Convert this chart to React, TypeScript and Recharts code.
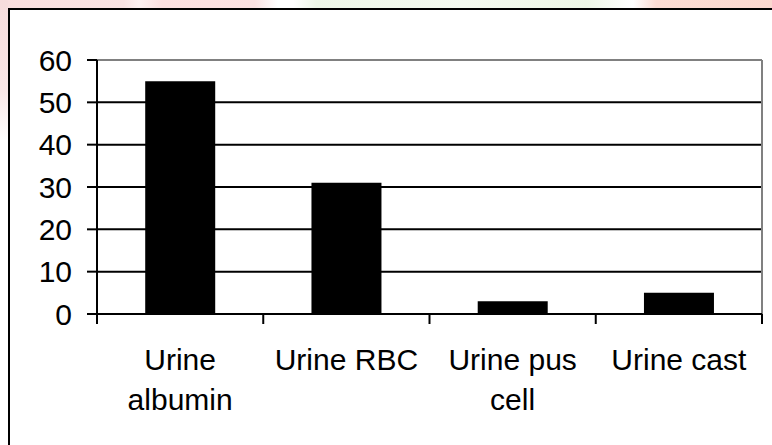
import React from 'react';
import { BarChart, Bar, XAxis, YAxis, CartesianGrid } from 'recharts';

const categories = ['Urine albumin', 'Urine RBC', 'Urine pus cell', 'Urine cast'];
const values = [55, 31, 3, 5];
const yTicks = [0, 10, 20, 30, 40, 50, 60];

const data = categories.map((name, i) => ({ name, value: values[i] }));

const FONT = '"Liberation Sans", Arial, Helvetica, sans-serif';
const FONT_SIZE = 30;
const LINE_HEIGHT = 40;
const X_TICK_SIZE = 10;
const X_TICK_MARGIN = 25;

let measureCtx: CanvasRenderingContext2D | null = null;
function measure(text: string): number {
  if (!measureCtx) {
    const c = document.createElement('canvas');
    measureCtx = c.getContext('2d');
  }
  if (!measureCtx) return text.length * FONT_SIZE * 0.5;
  measureCtx.font = `${FONT_SIZE}px ${FONT}`;
  return measureCtx.measureText(text).width;
}

function wrap(text: string, maxWidth: number): string[] {
  const words = String(text).split(' ');
  const lines: string[] = [];
  let cur = '';
  for (const w of words) {
    const next = cur ? cur + ' ' + w : w;
    if (cur && measure(next) > maxWidth) {
      lines.push(cur);
      cur = w;
    } else {
      cur = next;
    }
  }
  if (cur) lines.push(cur);
  return lines;
}

function XTick(props: any) {
  const { x, y, payload, index, visibleTicksCount, width } = props;
  let half = payload && typeof payload.offset === 'number' && payload.offset > 0 ? payload.offset : 0;
  if (!half && width && visibleTicksCount) half = width / visibleTicksCount / 2;
  const axisY = y - X_TICK_SIZE - X_TICK_MARGIN;
  const lines = wrap(payload.value, half * 2 - 4);
  return (
    <g>
      <line x1={x - half} y1={axisY} x2={x - half} y2={axisY + X_TICK_SIZE} stroke="#000" strokeWidth={2} />
      {index === visibleTicksCount - 1 && (
        <line x1={x + half} y1={axisY} x2={x + half} y2={axisY + X_TICK_SIZE} stroke="#000" strokeWidth={2} />
      )}
      <text x={x} y={y} textAnchor="middle" fill="#000" fontSize={FONT_SIZE} fontFamily={FONT}>
        {lines.map((l, i) => (
          <tspan key={i} x={x} dy={i === 0 ? '0.71em' : LINE_HEIGHT}>
            {l}
          </tspan>
        ))}
      </text>
    </g>
  );
}

export default function App() {
  return (
    <div
      style={{
        position: 'absolute',
        left: 0,
        top: 0,
        width: 772,
        height: 445,
        overflow: 'hidden',
        background:
          'linear-gradient(to bottom, #f7dcdc 0px, #f9e6e6 90px, #ffffff 140px) 0 0 / 8px 100% no-repeat, linear-gradient(to right, #f9dede 0%, #f9e4e4 16%, #fdf2f2 18%, #fbe0e0 21%, #fbe2e2 33%, #ffffff 36%, #ffffff 38%, #eef7e8 41%, #f4faf0 60%, #eef7e6 76%, #ffffff 82%, #fcdcd4 85%, #fbd8d0 100%)',
      }}
    >
      <div
        style={{
          position: 'absolute',
          left: 8,
          top: 8,
          width: 800,
          height: 480,
          borderLeft: '2px solid #000',
          borderTop: '2px solid #000',
          background: '#fff',
        }}
      />
      <div style={{ position: 'absolute', left: 0, top: 0 }}>
        <BarChart
          width={772}
          height={445}
          data={data}
          margin={{ top: 60, right: 10, bottom: 0, left: 0 }}
          barCategoryGap="29%"
        >
          <CartesianGrid vertical={false} stroke="#000" strokeWidth={2} />
          <CartesianGrid
            stroke="#808080"
            strokeWidth={2}
            horizontalCoordinatesGenerator={({ offset }: any) => [offset.top]}
            verticalCoordinatesGenerator={({ offset }: any) => [offset.left + offset.width]}
          />
          <XAxis
            dataKey="name"
            height={131}
            interval={0}
            tickSize={X_TICK_SIZE}
            tickMargin={X_TICK_MARGIN}
            tickLine={false}
            axisLine={{ stroke: '#000', strokeWidth: 2 }}
            tick={<XTick />}
          />
          <YAxis
            width={97}
            domain={[0, 60]}
            ticks={yTicks}
            interval={0}
            tickSize={10}
            tickMargin={15}
            axisLine={{ stroke: '#000', strokeWidth: 2 }}
            tickLine={{ stroke: '#000', strokeWidth: 2 }}
            tick={{ fill: '#000', fontSize: FONT_SIZE, fontFamily: FONT }}
          />
          <Bar dataKey="value" fill="#000" isAnimationActive={false} />
        </BarChart>
      </div>
    </div>
  );
}
